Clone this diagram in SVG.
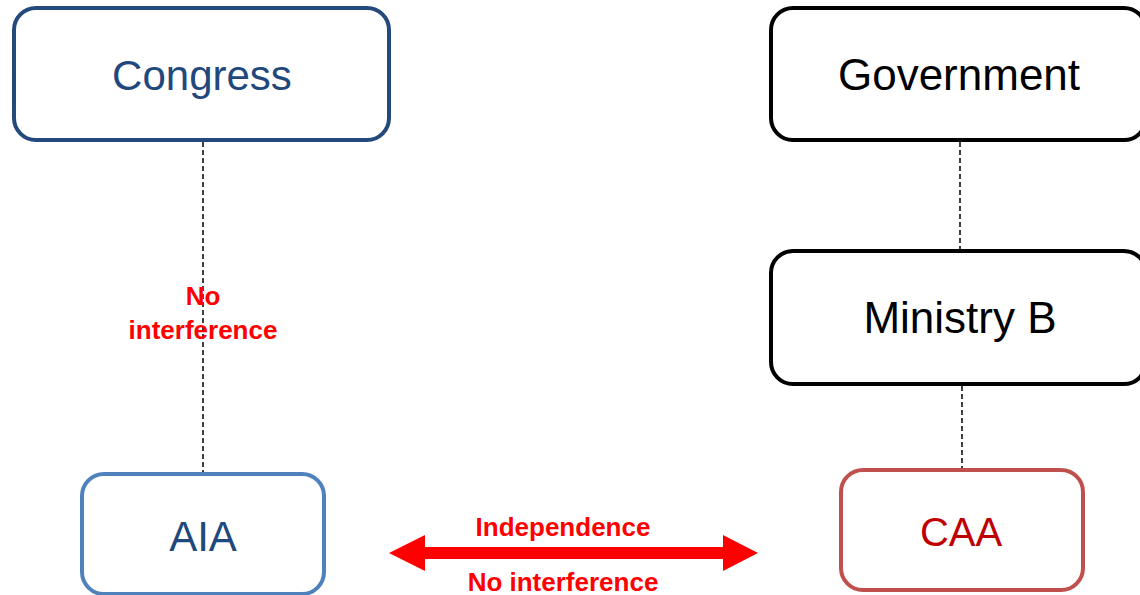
<svg xmlns="http://www.w3.org/2000/svg" width="1140" height="595" viewBox="0 0 1140 595">
  <style>
    .box { fill: #ffffff; stroke-width: 4; }
    .label { font-family: "Liberation Sans", Arial, sans-serif; font-size: 42px; text-anchor: middle; }
    .wide { font-size: 44px; }
    .note { font-family: "Liberation Sans", Arial, sans-serif; font-weight: bold; font-size: 26px; fill: #ff0000; text-anchor: middle; }
    .dash { stroke: #000000; stroke-width: 1.5; stroke-dasharray: 5 3; fill: none; }
  </style>
  <rect width="1140" height="595" fill="#ffffff"/>

  <!-- dashed links between the boxes -->
  <g id="connectors">
    <line class="dash" x1="203" y1="142" x2="203" y2="472"/>
    <line class="dash" x1="960" y1="142" x2="960" y2="249"/>
    <line class="dash" x1="962" y1="386" x2="962" y2="468"/>
    <!-- double-headed red arrow between AIA and CAA -->
    <path id="arrow" d="M389,553 L425,535 L425,547 L723,547 L723,535 L758,553 L723,571 L723,559 L425,559 L425,571 Z" fill="#ff0000"/>
  </g>

  <g id="congress">
    <rect class="box" x="14" y="8" width="375" height="132" rx="22" stroke="#24497c"/>
    <text class="label" x="202" y="90" fill="#1f497d">Congress</text>
  </g>

  <g id="government">
    <rect class="box" x="771" y="8" width="375" height="132" rx="22" stroke="#000000"/>
    <text class="label wide" x="959" y="90" fill="#000000">Government</text>
  </g>

  <g id="ministry-b">
    <rect class="box" x="771" y="251" width="375" height="133" rx="22" stroke="#000000"/>
    <text class="label wide" x="960" y="333" fill="#000000">Ministry B</text>
  </g>

  <g id="aia">
    <rect class="box" x="82" y="474" width="242" height="120" rx="22" stroke="#4f81bd"/>
    <text class="label" x="203" y="551" fill="#1f497d">AIA</text>
  </g>

  <g id="caa">
    <rect class="box" x="841" y="470" width="242" height="120" rx="22" stroke="#c0504d"/>
    <text class="label" x="961" y="546" fill="#c00000" style="font-size:40px">CAA</text>
  </g>

  <g id="labels">
    <text class="note" x="203" y="305">No</text>
    <text class="note" x="203" y="339">interference</text>
    <text class="note" x="563" y="536">Independence</text>
    <text class="note" x="563" y="591">No interference</text>
  </g>
</svg>
